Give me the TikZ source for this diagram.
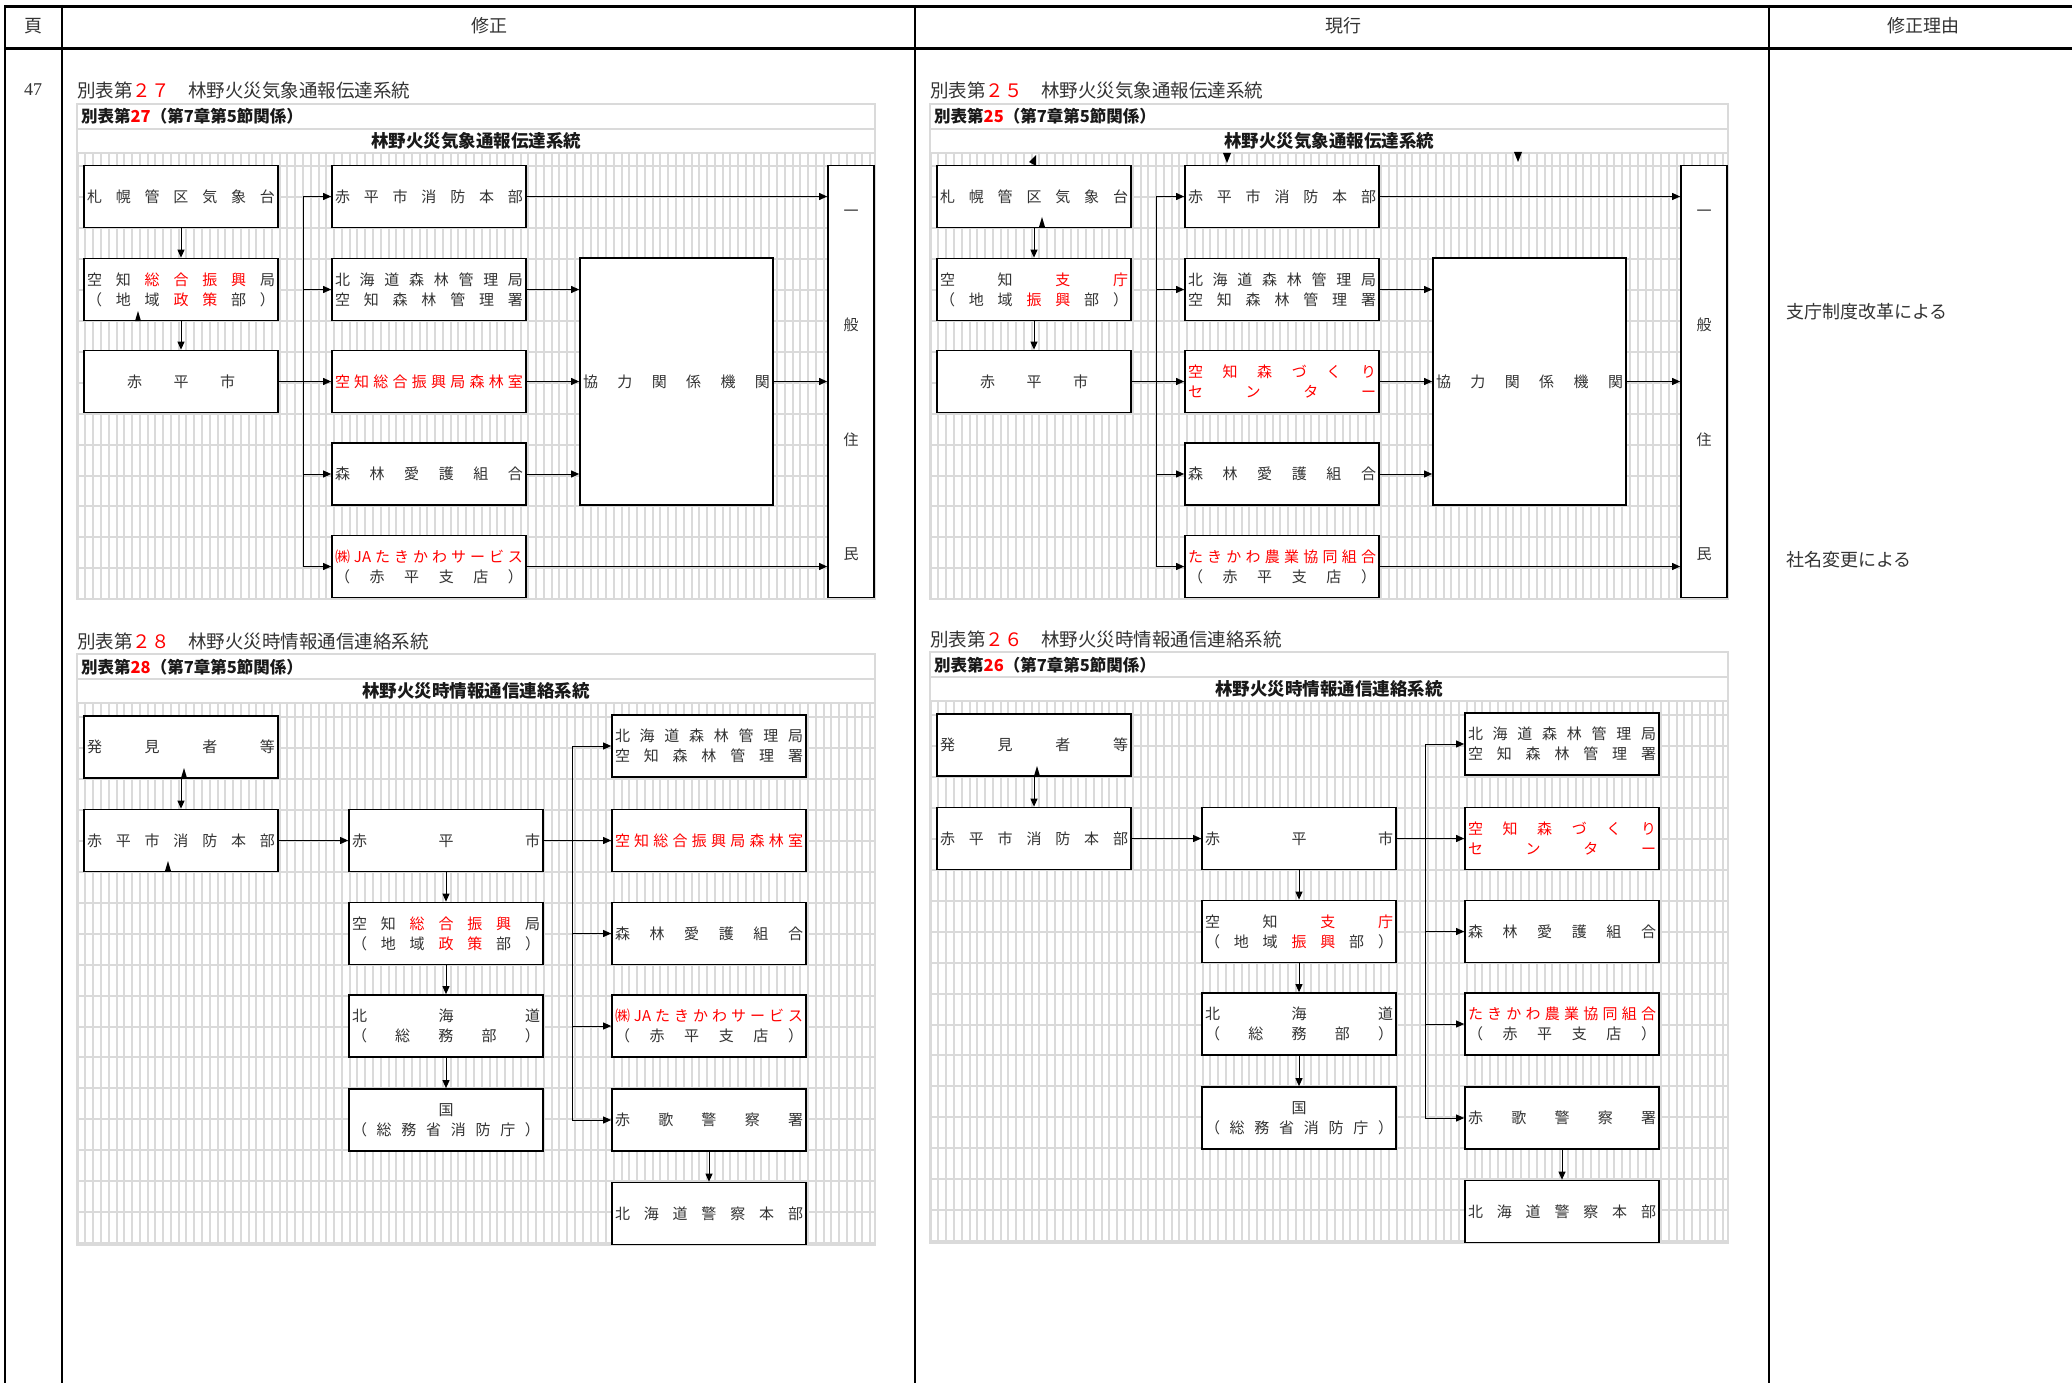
\documentclass[tikz,border=0pt]{standalone}
\usepackage{fontspec}
\setmainfont{Liberation Serif}
\newfontfamily\jp{Noto Sans CJK JP}
\usetikzlibrary{arrows.meta}
\definecolor{gridgray}{HTML}{DADADA}
\newcommand{\rd}[1]{\textcolor{red}{#1}}
\newcommand{\spr}[2]{\hbox to #1{\foreach \ch [count=\k] in {#2}{\ifnum\k>1 \hfill\fi\ch}}}
\tikzset{
  bx/.style={draw, line width=1.7pt, fill=white, inner sep=0pt, minimum width=194pt, minimum height=62pt,
    align=center, font=\jp\fontsize{15}{20}\selectfont, text=black!80},
  ar/.style={-{Triangle[length=8pt,width=7pt]}, line width=1pt},
  grd/.style={draw=gridgray, line width=2pt},
  tbl/.style={draw=gridgray, line width=2.5pt},
  ttl/.style={anchor=west, inner sep=0pt, font=\jp\fontsize{18.5}{18.5}\selectfont, text=black!80},
  sub/.style={inner sep=0pt, font=\jp\bfseries\fontsize{16.5}{16.5}\selectfont, text=black!90},
  hd/.style={inner sep=0pt, font=\jp\fontsize{18}{18}\selectfont, text=black!80}
}

\begin{document}
\begin{tikzpicture}[x=1pt,y=-1pt]
\useasboundingbox (0,0) rectangle (2072,1383);
\draw[line width=3pt] (5,6.5) -- (2072,6.5);
\draw[line width=3pt] (5,49) -- (2072,49);
\draw[line width=2.5pt] (5,5) -- (5,1383);
\draw[line width=2.5pt] (62,5) -- (62,1383);
\draw[line width=1.5pt] (915,5) -- (915,1383);
\draw[line width=2.5pt] (1769,5) -- (1769,1383);
\node[hd] (hpage) at (33,26) {頁};
\node[hd] (hnew) at (489,26) {修正};
\node[hd] (hold) at (1343,26) {現行};
\node[hd] (hwhy) at (1923,26) {修正理由};
\node[inner sep=0pt, font=\fontsize{18}{18}\selectfont, text=black!80] (pg) at (33,90) {47};
\node[hd, anchor=west] (why1) at (1786,312) {支庁制度改革による};
\node[hd, anchor=west] (why2) at (1786,560) {社名変更による};

\node[ttl] (t27) at (77,90) {別表第\rd{２７}　林野火災気象通報伝達系統};
\node[ttl] (t28) at (77,641) {別表第\rd{２８}　林野火災時情報通信連絡系統};
\node[ttl] (t25) at (930,90) {別表第\rd{２５}　林野火災気象通報伝達系統};
\node[ttl] (t26) at (930,639) {別表第\rd{２６}　林野火災時情報通信連絡系統};

\foreach \dx/\dy/\ya/\yb/\hy/\hn in {0/0/153/599/166/14, 853/0/153/599/166/14, 0/0/703/1245/717/17, 853/-2/703/1245/717/17} {
  \begin{scope}[shift={(\dx,\dy)}]
    \foreach \i in {0,...,102}
      \draw[grd] ({77.7+7.77*\i},\ya) -- ({77.7+7.77*\i},\yb);
    \foreach \j in {0,...,\hn}
      \draw[grd] (77,{\hy+30.95*\j}) -- (875,{\hy+30.95*\j});
    \draw[tbl] (77,\ya-49) rectangle (875,\yb);
    \draw[tbl] (77,\ya-24) -- (875,\ya-24);
    \draw[tbl] (77,\ya) -- (875,\ya);
  \end{scope}
}

\node[sub, anchor=west] (s27) at (81,116) {別表第\rd{27}（第7章第5節関係）};
\node[sub] (u27) at (476,141) {\fontsize{17.5}{17.5}\selectfont 林野火災気象通報伝達系統};
\node[sub, anchor=west] (s28) at (81,667) {別表第\rd{28}（第7章第5節関係）};
\node[sub] (u28) at (476,691) {\fontsize{17.5}{17.5}\selectfont 林野火災時情報通信連絡系統};
\node[sub, anchor=west] (s25) at (934,116) {別表第\rd{25}（第7章第5節関係）};
\node[sub] (u25) at (1329,141) {\fontsize{17.5}{17.5}\selectfont 林野火災気象通報伝達系統};
\node[sub, anchor=west] (s26) at (934,665) {別表第\rd{26}（第7章第5節関係）};
\node[sub] (u26) at (1329,689) {\fontsize{17.5}{17.5}\selectfont 林野火災時情報通信連絡系統};

% 別表第27
\node[bx] (sap) at (181,196.5) {\spr{188pt}{札,幌,管,区,気,象,台}};
\node[bx] (shin) at (181,289.5) {\spr{188pt}{空,知,\rd{総},\rd{合},\rd{振},\rd{興},局}\\\spr{188pt}{（,地,域,\rd{政},\rd{策},部,）}};
\node[bx] (aka) at (181,381.5) {\spr{108pt}{赤,平,市}};
\node[bx] (sho) at (429,196.5) {\spr{188pt}{赤,平,市,消,防,本,部}};
\node[bx] (rin) at (429,289.5) {\spr{188pt}{北,海,道,森,林,管,理,局}\\\spr{188pt}{空,知,森,林,管,理,署}};
\node[bx, text=red] (shinrin) at (429,381.5) {\spr{188pt}{空,知,総,合,振,興,局,森,林,室}};
\node[bx] (aigo) at (429,474) {\spr{188pt}{森,林,愛,護,組,合}};
\node[bx] (ja) at (429,566.5) {\rd{\spr{188pt}{㈱,JA,た,き,か,わ,サ,ー,ビ,ス}}\\\spr{188pt}{（,赤,平,支,店,）}};
\node[bx, minimum width=193pt, minimum height=247pt] (kyo) at (676.5,381.5) {\spr{187pt}{協,力,関,係,機,関}};
\node[bx, minimum width=46pt, minimum height=432pt] (jumin) at (851,381.5) {\vbox to 358pt{\vskip 8pt\hbox{一}\vfill\hbox{般}\vfill\hbox{住}\vfill\hbox{民}}};
\coordinate (bus27) at (303,0);
\draw[ar] (sap) -- (shin);
\draw[ar] (shin) -- (aka);
\draw[ar] (aka) -- (shinrin);
\draw[line width=1pt] (bus27 |- sho) -- (bus27 |- ja);
\foreach \t in {sho,rin,aigo,ja}
  \draw[ar] (bus27 |- \t) -- (\t);
\draw[ar] (sho) -- (sho -| jumin.west);
\draw[ar] (ja) -- (ja -| jumin.west);
\foreach \t in {rin,aigo}
  \draw[ar] (\t) -- (\t -| kyo.west);
\draw[ar] (shinrin) -- (kyo);
\draw[ar] (kyo) -- (jumin);
\fill (135,321) -- (141,321) -- (138,311) -- cycle;

% 別表第28
\node[bx] (hak) at (181,747) {\spr{188pt}{発,見,者,等}};
\node[bx] (sho2) at (181,840.5) {\spr{188pt}{赤,平,市,消,防,本,部}};
\node[bx] (aka2) at (446,840.5) {\spr{188pt}{赤,平,市}};
\node[bx] (shin2) at (446,933.5) {\spr{188pt}{空,知,\rd{総},\rd{合},\rd{振},\rd{興},局}\\\spr{188pt}{（,地,域,\rd{政},\rd{策},部,）}};
\node[bx] (hok2) at (446,1026) {\spr{188pt}{北,海,道}\\\spr{188pt}{（,総,務,部,）}};
\node[bx] (kuni2) at (446,1120) {国\\\spr{188pt}{（,総,務,省,消,防,庁,）}};
\node[bx] (rin2) at (709,746) {\spr{188pt}{北,海,道,森,林,管,理,局}\\\spr{188pt}{空,知,森,林,管,理,署}};
\node[bx, text=red] (shinrin2) at (709,840.5) {\spr{188pt}{空,知,総,合,振,興,局,森,林,室}};
\node[bx] (aigo2) at (709,933.5) {\spr{188pt}{森,林,愛,護,組,合}};
\node[bx] (ja2) at (709,1026) {\rd{\spr{188pt}{㈱,JA,た,き,か,わ,サ,ー,ビ,ス}}\\\spr{188pt}{（,赤,平,支,店,）}};
\node[bx] (kei2) at (709,1120) {\spr{188pt}{赤,歌,警,察,署}};
\node[bx] (dokei2) at (709,1213.5) {\spr{188pt}{北,海,道,警,察,本,部}};
\coordinate (bus28) at (572,0);
\draw[ar] (hak) -- (sho2);
\draw[ar] (sho2) -- (aka2);
\draw[ar] (aka2) -- (shinrin2);
\draw[line width=1pt] (bus28 |- rin2) -- (bus28 |- kei2);
\foreach \t in {rin2,aigo2,ja2,kei2}
  \draw[ar] (bus28 |- \t) -- (\t);
\draw[ar] (aka2) -- (shin2);
\draw[ar] (shin2) -- (hok2);
\draw[ar] (hok2) -- (kuni2);
\draw[ar] (kei2) -- (dokei2);
\fill (181,778) -- (187,778) -- (184,768) -- cycle;
\fill (165,871) -- (171,871) -- (168,861) -- cycle;

% 別表第25
\begin{scope}[shift={(853,0)}]
\node[bx] (sapb) at (181,196.5) {\spr{188pt}{札,幌,管,区,気,象,台}};
\node[bx] (shinb) at (181,289.5) {\spr{188pt}{空,知,\rd{支},\rd{庁}}\\\spr{188pt}{（,地,域,\rd{振},\rd{興},部,）}};
\node[bx] (akab) at (181,381.5) {\spr{108pt}{赤,平,市}};
\node[bx] (shob) at (429,196.5) {\spr{188pt}{赤,平,市,消,防,本,部}};
\node[bx] (rinb) at (429,289.5) {\spr{188pt}{北,海,道,森,林,管,理,局}\\\spr{188pt}{空,知,森,林,管,理,署}};
\node[bx, text=red] (morib) at (429,381.5) {\spr{188pt}{空,知,森,づ,く,り}\\\spr{188pt}{セ,ン,タ,ー}};
\node[bx] (aigob) at (429,474) {\spr{188pt}{森,林,愛,護,組,合}};
\node[bx] (jab) at (429,566.5) {\rd{\spr{188pt}{た,き,か,わ,農,業,協,同,組,合}}\\\spr{188pt}{（,赤,平,支,店,）}};
\node[bx, minimum width=193pt, minimum height=247pt] (kyob) at (676.5,381.5) {\spr{187pt}{協,力,関,係,機,関}};
\node[bx, minimum width=46pt, minimum height=432pt] (juminb) at (851,381.5) {\vbox to 358pt{\vskip 8pt\hbox{一}\vfill\hbox{般}\vfill\hbox{住}\vfill\hbox{民}}};
\coordinate (bus25) at (303,0);
\draw[ar] (sapb) -- (shinb);
\draw[ar] (shinb) -- (akab);
\draw[ar] (akab) -- (morib);
\draw[line width=1pt] (bus25 |- shob) -- (bus25 |- jab);
\foreach \t in {shob,rinb,aigob,jab}
  \draw[ar] (bus25 |- \t) -- (\t);
\draw[ar] (shob) -- (shob -| juminb.west);
\draw[ar] (jab) -- (jab -| juminb.west);
\foreach \t in {rinb,aigob}
  \draw[ar] (\t) -- (\t -| kyob.west);
\draw[ar] (morib) -- (kyob);
\draw[ar] (kyob) -- (juminb);
\end{scope}
\fill (1036,155) -- (1036,166) -- (1029,162) -- cycle;
\fill (1223,153) -- (1231,153) -- (1227,163) -- cycle;
\fill (1514,152) -- (1522,152) -- (1518,162) -- cycle;
\fill (1039,227) -- (1045,227) -- (1042,217) -- cycle;

% 別表第26
\begin{scope}[shift={(853,-2)}]
\node[bx] (hakc) at (181,747) {\spr{188pt}{発,見,者,等}};
\node[bx] (shoc) at (181,840.5) {\spr{188pt}{赤,平,市,消,防,本,部}};
\node[bx] (akac) at (446,840.5) {\spr{188pt}{赤,平,市}};
\node[bx] (shinc) at (446,933.5) {\spr{188pt}{空,知,\rd{支},\rd{庁}}\\\spr{188pt}{（,地,域,\rd{振},\rd{興},部,）}};
\node[bx] (hokc) at (446,1026) {\spr{188pt}{北,海,道}\\\spr{188pt}{（,総,務,部,）}};
\node[bx] (kunic) at (446,1120) {国\\\spr{188pt}{（,総,務,省,消,防,庁,）}};
\node[bx] (rinc) at (709,746) {\spr{188pt}{北,海,道,森,林,管,理,局}\\\spr{188pt}{空,知,森,林,管,理,署}};
\node[bx, text=red] (moric) at (709,840.5) {\spr{188pt}{空,知,森,づ,く,り}\\\spr{188pt}{セ,ン,タ,ー}};
\node[bx] (aigoc) at (709,933.5) {\spr{188pt}{森,林,愛,護,組,合}};
\node[bx] (jac) at (709,1026) {\rd{\spr{188pt}{た,き,か,わ,農,業,協,同,組,合}}\\\spr{188pt}{（,赤,平,支,店,）}};
\node[bx] (keic) at (709,1120) {\spr{188pt}{赤,歌,警,察,署}};
\node[bx] (dokeic) at (709,1213.5) {\spr{188pt}{北,海,道,警,察,本,部}};
\coordinate (bus26) at (572,0);
\draw[ar] (hakc) -- (shoc);
\draw[ar] (shoc) -- (akac);
\draw[ar] (akac) -- (moric);
\draw[line width=1pt] (bus26 |- rinc) -- (bus26 |- keic);
\foreach \t in {rinc,aigoc,jac,keic}
  \draw[ar] (bus26 |- \t) -- (\t);
\draw[ar] (akac) -- (shinc);
\draw[ar] (shinc) -- (hokc);
\draw[ar] (hokc) -- (kunic);
\draw[ar] (keic) -- (dokeic);
\fill (181,778) -- (187,778) -- (184,768) -- cycle;
\end{scope}
\end{tikzpicture}
\end{document}
